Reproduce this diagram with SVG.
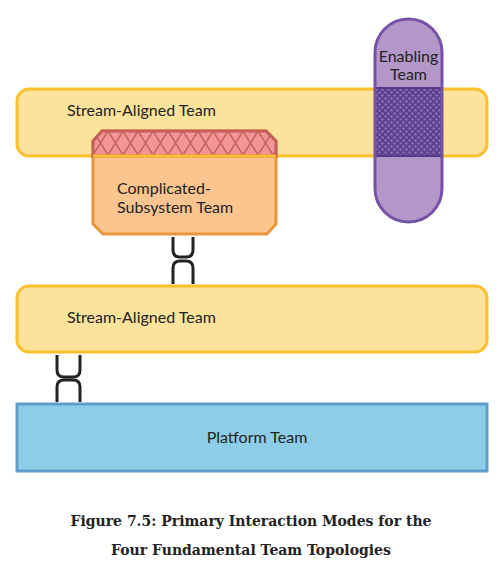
<svg xmlns="http://www.w3.org/2000/svg" width="502" height="563" viewBox="0 0 502 563">
<style>
.lbl{font-family:Lato,"Open Sans",sans-serif;font-size:16px;fill:#222}
.cap{font-family:"DejaVu Serif","Liberation Serif",serif;font-weight:bold;font-size:14px;fill:#222}
.link{fill:none;stroke:#222;stroke-width:3;stroke-linecap:butt}
</style>
<defs>
<pattern id="hatch" x="93" y="131" width="15" height="24" patternUnits="userSpaceOnUse">
<rect width="15" height="24" fill="#F39596"/>
<path d="M0,0 L15,24 M15,0 L0,24" stroke="#C8615E" stroke-width="1.5"/>
</pattern>
<pattern id="dots" x="375" y="88" width="6" height="6" patternUnits="userSpaceOnUse">
<rect width="6" height="6" fill="#5C418F"/>
<circle cx="1.5" cy="1.5" r="1.3" fill="#8C70B8"/>
<circle cx="4.5" cy="4.5" r="1.3" fill="#8C70B8"/>
</pattern>
</defs>
<rect width="502" height="563" fill="#fff"/>
<g id="stream-aligned-1">
<rect x="17" y="89" width="470" height="67" rx="12" fill="#FDE29B" stroke="#FBC02E" stroke-width="3"/>
<text class="lbl" x="67" y="116">Stream-Aligned Team</text>
</g>
<g id="complicated-subsystem">
<path d="M102,131 L266,131 L276,141 L276,224 L267,234 L103,234 L93,224 L93,141 Z" fill="#FCC48F" stroke="#E8963A" stroke-width="3"/>
<path d="M93,156 L93,141 L102,131 L266,131 L276,141 L276,156 Z" fill="url(#hatch)" stroke="#C4605C" stroke-width="3"/>
<line x1="93" y1="156" x2="276" y2="156" stroke="#FBC02E" stroke-width="3"/>
<text class="lbl" x="117" y="194">Complicated-</text>
<text class="lbl" x="117" y="213">Subsystem Team</text>
</g>
<g id="enabling">
<rect x="375" y="19" width="67" height="203" rx="33.5" fill="#B497C9"/>
<rect x="375" y="88" width="67" height="68" fill="url(#dots)" stroke="#533A85" stroke-width="2"/>
<rect x="375" y="19" width="67" height="203" rx="33.5" fill="none" stroke="#7452A6" stroke-width="3"/>
<text class="lbl" x="408.5" y="62" text-anchor="middle">Enabling</text>
<text class="lbl" x="408.5" y="80" text-anchor="middle">Team</text>
</g>
<g id="stream-aligned-2">
<rect x="17" y="286" width="470" height="66" rx="12" fill="#FDE29B" stroke="#FBC02E" stroke-width="3"/>
<text class="lbl" x="67" y="323">Stream-Aligned Team</text>
</g>
<g id="platform">
<rect x="17" y="404" width="470" height="67" fill="#8ECDE8" stroke="#5E9DCB" stroke-width="3"/>
<text class="lbl" x="257" y="443" text-anchor="middle">Platform Team</text>
</g>
<g id="connectors">
<path class="link" d="M173,237 V250 Q173,257 180,257 H186 Q193,257 193,250 V237"/>
<path class="link" d="M173,284 V268 Q173,261 180,261 H186 Q193,261 193,268 V284"/>
<path class="link" d="M57,355 V370 Q57,377 64,377 H73 Q80,377 80,370 V355"/>
<path class="link" d="M57,402 V387 Q57,380 64,380 H73 Q80,380 80,387 V402"/>
</g>
<g id="caption">
<text class="cap" x="251" y="526" text-anchor="middle">Figure 7.5: Primary Interaction Modes for the</text>
<text class="cap" x="251" y="555" text-anchor="middle">Four Fundamental Team Topologies</text>
</g>
</svg>
